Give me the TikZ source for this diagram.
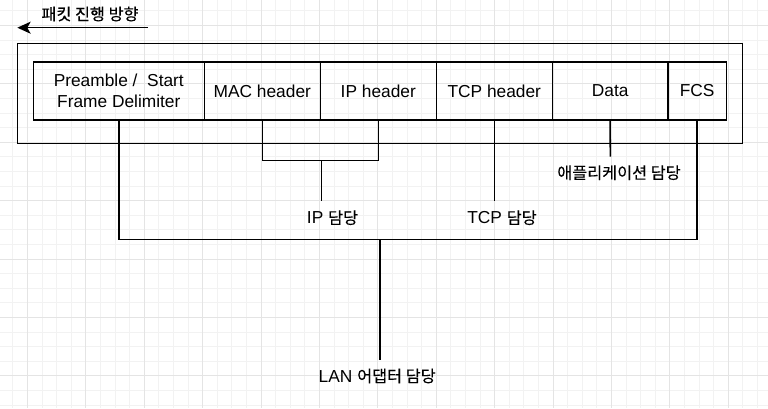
\documentclass[tikz,border=0pt]{standalone}
\usepackage{fontspec}
\setmainfont{Liberation Sans}
\newfontfamily\kr[FakeBold=0.25]{Noto Sans CJK KR}
\usetikzlibrary{arrows.meta,fit}
\definecolor{gridminor}{RGB}{242,242,242}
\definecolor{gridmajor}{RGB}{228,228,228}
\begin{document}
\begin{tikzpicture}[x=0.75pt,y=-0.75pt,
  line/.style={line width=1.15pt,draw=black},
  cell/.style={line,rectangle,inner sep=0pt,align=center,font=\fontsize{13}{15.8}\selectfont},
  lbl/.style={inner sep=0pt,font=\fontsize{13}{15.8}\selectfont},
  krtxt/.style={inner sep=0pt,font=\kr\fontsize{12.2}{14}\selectfont}]
\useasboundingbox (0,0) rectangle (768,408);
\fill[white] (0,0) rectangle (768,408);
% grid
\foreach \i in {0,...,52} \draw[gridminor,line width=0.6pt] ({12.7+14.6*\i},0) -- ({12.7+14.6*\i},408);
\foreach \i in {0,...,27} \draw[gridminor,line width=0.6pt] (0,{10.7+14.6*\i}) -- (768,{10.7+14.6*\i});
\foreach \i in {0,...,13} \draw[gridmajor,line width=0.6pt] ({27.3+58.4*\i},0) -- ({27.3+58.4*\i},408);
\foreach \i in {0,...,6} \draw[gridmajor,line width=0.6pt] (0,{25.3+58.4*\i}) -- (768,{25.3+58.4*\i});
% outer frame
\node[line,rectangle,inner sep=0pt,fit={(17.3,43.3) (742.3,143.3)}] (frame) {};
% cells
\node[cell,fit={(33.3,62) (204.3,120)}] (pre) {};
\node[align=center,font=\fontsize{13}{15.8}\selectfont] (pretxt) at (pre.center) {Preamble /~ Start\\Frame Delimiter};
\node[cell,fit={(204.3,62) (320.3,120)}] (mac) {};
\node[lbl] (mactxt) at (mac.center) {MAC header};
\node[cell,fit={(320.3,62) (436.3,120)}] (ip) {};
\node[lbl] (iptxt) at (ip.center) {IP header};
\node[cell,fit={(436.3,62) (552.3,120)}] (tcp) {};
\node[lbl] (tcptxt) at (tcp.center) {TCP header};
\node[cell,fit={(552.3,62) (668,120)}] (data) {};
\node[lbl] (datatxt) at (data.center) {Data};
\node[cell,fit={(668,62) (726.3,120)}] (fcs) {};
\node[lbl] (fcstxt) at (fcs.center) {FCS};
% direction
\node[krtxt] (dir) at (90,14) {패킷 진행 방향};
\coordinate (arrS) at (147.5,27.7);
\coordinate (arrE) at (17.3,27.7);
\draw[line,-{Stealth[length=10pt,width=9pt,inset=2.5pt]}] (arrS) -- (arrE);
% junctions
\coordinate (ipj) at (321.7,160.7);
\coordinate (ipend) at (321.7,201);
\coordinate (tcpend) at (494.3,201);
\coordinate (dataend) at (610.3,156.7);
\coordinate (lanj) at (380,239.3);
\coordinate (lanend) at (380,360);
% connectors
\draw[line] (mac.south) |- (ipj) -| (ip.south);
\draw[line] (ipj) -- (ipend);
\draw[line] (tcp.south) -- (tcpend);
\draw[line] (data.south) -- (dataend);
\draw[line] (pre.south) |- (lanj) -| (fcs.south);
\draw[line] (lanj) -- (lanend);
% labels
\node[lbl] (iplbl) at (332.5,217.7) {IP {\kr\fontsize{12.2}{14}\selectfont 담당}};
\node[lbl] (tcplbl) at (502,217.7) {TCP {\kr\fontsize{12.2}{14}\selectfont 담당}};
\node[krtxt] (applbl) at (619,172.7) {애플리케이션 담당};
\node[lbl] (lanlbl) at (377.2,376) {LAN {\kr\fontsize{12.2}{14}\selectfont 어댑터 담당}};
\end{tikzpicture}
\end{document}
